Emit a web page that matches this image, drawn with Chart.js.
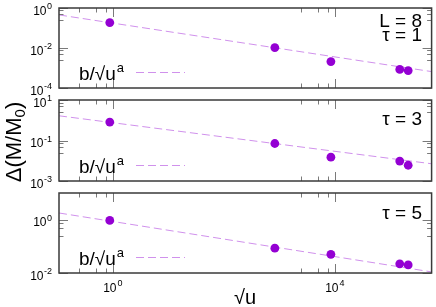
<!DOCTYPE html>
<html>
<head>
<meta charset="utf-8">
<script src="https://cdn.jsdelivr.net/npm/chart.js@4"></script>
<style>
  html, body { margin: 0; padding: 0; background: #fff; }
  #wrap { position: relative; width: 436px; height: 307px; }
  #wrap canvas { position: absolute; left: 0; top: 0; }
</style>
</head>
<body>
<div id="wrap">
  <canvas id="p1" width="436" height="307"></canvas>
  <canvas id="p2" width="436" height="307"></canvas>
  <canvas id="p3" width="436" height="307"></canvas>
</div>
<script>
// data
const sqrtU = [0.88, 830, 8500, 148000, 210000];
const deltaTau1 = [0.186, 0.0105, 0.0021, 0.00085, 0.00074];
const deltaTau3 = [0.81, 0.071, 0.015, 0.0096, 0.006];
const deltaTau5 = [0.94, 0.085, 0.050, 0.022, 0.020];

// fit line b/sqrt(u)^a, ends at the plot edges
const fitX = [0.107, 555000];
const fitTau1 = [0.45, 0.00066];
const fitTau3 = [1.66, 0.0071];
const fitTau5 = [1.78, 0.011];

const xTicks = [1, 1e4];
const yTicks1 = [1e-4, 1e-2, 1];
const yTicks2 = [1e-3, 1e-1, 10];
const yTicks3 = [1e-2, 1];

const X_MIN = 0.107, X_MAX = 555000;
const DOT = '#9400d3';
const FIT = '#d091ec';
const BORDER = '#3a3a3a';
const TICK = '#7a7a7a';
const FONT = '"Liberation Sans", Arial, sans-serif';

function minors(majors, step) {
  const out = [];
  majors.forEach(m => [0.25, 0.5, 0.75].forEach(f => out.push(m * f)));
  out.push(...[0.25, 0.5, 0.75].map(f => majors[majors.length - 1] * step * f));
  return out;
}

function expOf(v) { return String(Math.round(Math.log10(v))).replace('-', '-'); }

function framePlugin(opt) {
  return {
    id: 'frame',
    afterDraw(chart) {
      const ctx = chart.ctx, a = chart.chartArea;
      const xs = chart.scales.x, ys = chart.scales.y;
      ctx.save();
      ctx.strokeStyle = TICK;
      ctx.lineWidth = 1;
      ctx.beginPath();
      const xm = minors(xTicks, 1e4);
      xTicks.concat(xm).forEach((v, i) => {
        if (v < X_MIN || v > X_MAX) return;
        const len = i < xTicks.length ? 9 : 4.5;
        const px = Math.round(xs.getPixelForValue(v)) + 0.5;
        ctx.moveTo(px, a.bottom); ctx.lineTo(px, a.bottom - len);
        ctx.moveTo(px, a.top); ctx.lineTo(px, a.top + len);
      });
      const ym = minors(opt.yTicks, 100);
      opt.yTicks.concat(ym).forEach((v, i) => {
        if (v < opt.yMin || v > opt.yMax) return;
        const len = i < opt.yTicks.length ? 9 : 4.5;
        const py = Math.round(ys.getPixelForValue(v)) + 0.5;
        ctx.moveTo(a.left, py); ctx.lineTo(a.left + len, py);
        ctx.moveTo(a.right, py); ctx.lineTo(a.right - len, py);
      });
      ctx.stroke();

      ctx.strokeStyle = BORDER;
      ctx.lineWidth = 1.5;
      ctx.strokeRect(a.left, a.top, a.right - a.left, a.bottom - a.top);

      // y tick labels 10^n
      ctx.fillStyle = '#000';
      ctx.textBaseline = 'alphabetic';
      opt.yTicks.forEach(v => {
        const py = ys.getPixelForValue(v);
        const e = expOf(v);
        ctx.font = '9px ' + FONT;
        const ew = ctx.measureText(e).width;
        ctx.textAlign = 'left';
        ctx.fillText(e, 52 - ew, py + 1);
        ctx.font = '12px ' + FONT;
        ctx.textAlign = 'right';
        ctx.fillText('10', 52 - ew - 0.5, py + 6.5);
      });

      // legend sample
      const ly = a.bottom - 15.5;
      ctx.font = '19px ' + FONT;
      ctx.textAlign = 'left';
      ctx.fillText('b/\u221Au', 79, a.bottom - 8);
      const bw = ctx.measureText('b/\u221Au').width;
      ctx.font = '13px ' + FONT;
      ctx.fillText('a', 79 + bw + 1, a.bottom - 16);
      ctx.strokeStyle = FIT;
      ctx.lineWidth = 1;
      ctx.setLineDash([8, 4]);
      ctx.beginPath();
      ctx.moveTo(136, ly); ctx.lineTo(185, ly);
      ctx.stroke();
      ctx.setLineDash([]);

      // panel labels
      ctx.font = '19px ' + FONT;
      ctx.textAlign = 'right';
      opt.labels.forEach((t, i) => ctx.fillText(t, 422, a.top + opt.labelY[i]));

      if (opt.xAxis) {
        xTicks.forEach(v => {
          const px = xs.getPixelForValue(v);
          const e = expOf(v);
          ctx.font = '12px ' + FONT;
          const tw = ctx.measureText('10').width;
          ctx.font = '9px ' + FONT;
          const ew = ctx.measureText(e).width;
          const x0 = px - (tw + ew + 1) / 2;
          ctx.textAlign = 'left';
          ctx.fillText(e, x0 + tw + 1, 286);
          ctx.font = '12px ' + FONT;
          ctx.fillText('10', x0, 292);
        });
        ctx.font = '20px ' + FONT;
        ctx.textAlign = 'center';
        ctx.fillText('\u221Au', 245, 304);
      }

      if (opt.yTitle) {
        ctx.save();
        ctx.translate(21, 142);
        ctx.rotate(-Math.PI / 2);
        ctx.font = '22px ' + FONT;
        const p1 = '\u0394(M/M', p2 = '0', p3 = ')';
        const w1 = ctx.measureText(p1).width, w3 = ctx.measureText(p3).width;
        ctx.font = '15px ' + FONT;
        const w2 = ctx.measureText(p2).width;
        let x = -(w1 + w2 + w3) / 2;
        ctx.textAlign = 'left';
        ctx.font = '22px ' + FONT;
        ctx.fillText(p1, x, 0);
        ctx.font = '15px ' + FONT;
        ctx.fillText(p2, x + w1, 4);
        ctx.font = '22px ' + FONT;
        ctx.fillText(p3, x + w1 + w2, 0);
        ctx.restore();
      }
      ctx.restore();
    }
  };
}

function makePanel(id, opt) {
  return new Chart(document.getElementById(id), {
    type: 'scatter',
    data: {
      datasets: [
        {
          data: sqrtU.map((x, i) => ({ x, y: opt.values[i] })),
          pointRadius: 4.4,
          backgroundColor: DOT,
          borderWidth: 0
        },
        {
          data: fitX.map((x, i) => ({ x, y: opt.fit[i] })),
          showLine: true,
          borderColor: FIT,
          borderWidth: 1,
          borderDash: [8, 4],
          pointRadius: 0
        }
      ]
    },
    options: {
      responsive: false,
      animation: false,
      events: [],
      layout: { padding: { left: 59, right: 1, top: opt.top, bottom: 307 - opt.bottom } },
      plugins: { legend: { display: false }, tooltip: { enabled: false } },
      scales: {
        x: { type: 'logarithmic', display: false, min: X_MIN, max: X_MAX },
        y: { type: 'logarithmic', display: false, min: opt.yMin, max: opt.yMax }
      }
    },
    plugins: [framePlugin(opt)]
  });
}

makePanel('p1', {
  top: 8, bottom: 88, yMin: 1e-4, yMax: 1, yTicks: yTicks1,
  values: deltaTau1, fit: fitTau1,
  labels: ['L = 8', '\u03C4 = 1'], labelY: [19, 33]
});
makePanel('p2', {
  top: 100, bottom: 181, yMin: 1e-3, yMax: 10, yTicks: yTicks2,
  values: deltaTau3, fit: fitTau3,
  labels: ['\u03C4 = 3'], labelY: [25], yTitle: true
});
makePanel('p3', {
  top: 193, bottom: 273, yMin: 1e-2, yMax: 10, yTicks: yTicks3,
  values: deltaTau5, fit: fitTau5,
  labels: ['\u03C4 = 5'], labelY: [26], xAxis: true
});
</script>
</body>
</html>
